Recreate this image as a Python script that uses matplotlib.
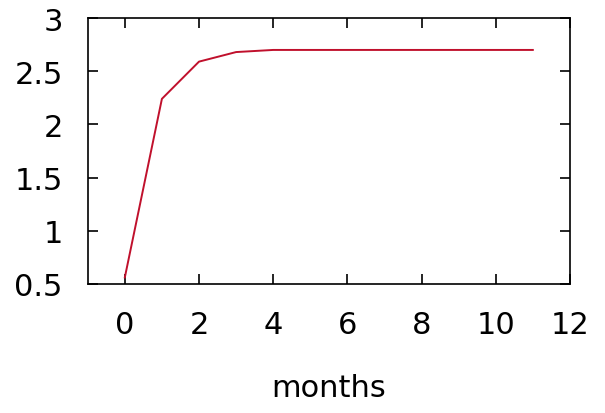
import matplotlib
matplotlib.use("Agg")
import matplotlib.pyplot as plt

# data
months = [0, 1, 2, 3, 4, 5, 6, 7, 8, 9, 10, 11]
values = [0.56, 2.24, 2.59, 2.68, 2.70, 2.70, 2.70, 2.70, 2.70, 2.70, 2.70, 2.70]

xticks = [0, 2, 4, 6, 8, 10, 12]
yticks = [0.5, 1, 1.5, 2, 2.5, 3]
ytick_labels = ["0.5", "1", "1.5", "2", "2.5", "3"]

plt.rcParams.update({
    'font.family': 'DejaVu Sans',
    'font.size': 22,
})

fig = plt.figure(figsize=(6.05, 4.14), dpi=100)
ax = fig.add_axes([0.145, 0.312, 0.797, 0.642])

ax.plot(months, values, color='#c0102c', linewidth=1.4)

ax.set_xlim(-1, 12)
ax.set_ylim(0.5, 3)
ax.set_xticks(xticks)
ax.set_yticks(yticks)
ax.set_yticklabels(ytick_labels)
ax.tick_params(direction='in', length=7, width=1.2, top=True, right=True,
               labelsize=22, colors='black')
ax.tick_params(axis='x', pad=19)
ax.tick_params(axis='y', pad=18)
for s in ax.spines.values():
    s.set_linewidth(1.2)

ax.set_xlabel('months', fontsize=22, labelpad=24)

fig.savefig('out.png', dpi=100)
